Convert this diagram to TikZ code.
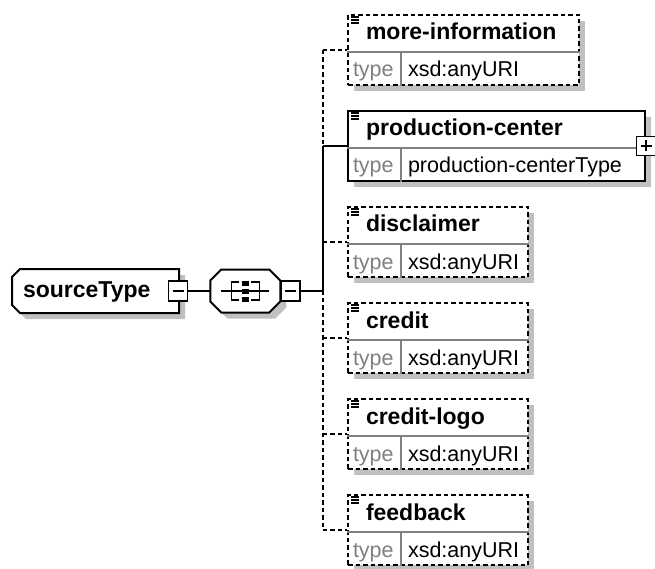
\documentclass[tikz,border=0pt]{standalone}
\usepackage{fontspec}
\setmainfont{Liberation Sans}
\usetikzlibrary{positioning,shadows}

\definecolor{shadegray}{RGB}{192,192,192}
\definecolor{linegray}{RGB}{128,128,128}

\begin{document}
\begin{tikzpicture}[x=1pt, y=-1pt, line width=2pt,
  every node/.style={inner sep=0pt},
  dashline/.style={dash pattern=on 4.5pt off 3pt},
  boxshadow/.style={drop shadow={shadow xshift=6pt, shadow yshift=-6pt, fill=shadegray, opacity=1}},
  elem/.style={draw, fill=white, rectangle, minimum height=70pt, boxshadow},
  namefont/.style={font=\fontsize{23}{26}\selectfont\bfseries},
  typefont/.style={font=\fontsize{21.5}{24}\selectfont},
  ctype/.style={rectangle, minimum width=165pt, minimum height=42pt},
  seqbox/.style={rectangle, minimum width=68pt, minimum height=41pt},
  outline/.style={draw, fill=white, boxshadow},
  minusbox/.style={draw, fill=white, minimum width=19pt, minimum height=20pt, line width=1.5pt,
    path picture={\draw[line width=1.5pt] ([xshift=4pt]path picture bounding box.west)
      -- ([xshift=-4pt]path picture bounding box.east);}},
  plusbox/.style={draw, fill=white, minimum size=19pt, line width=1.5pt,
    path picture={\draw[line width=1.5pt] ([xshift=4pt]path picture bounding box.west)
      -- ([xshift=-4pt]path picture bounding box.east);
      \draw[line width=1.5pt] ([yshift=-4pt]path picture bounding box.north)
      -- ([yshift=4pt]path picture bounding box.south);}}]
  \useasboundingbox (0,0) rectangle (655,569);

  %% complex type and its sequence compositor
  \node[ctype, anchor=west] (sourcetype) at (12,291) {};
  \draw[outline] ([xshift=8pt]sourcetype.north west) -- (sourcetype.north east)
    -- (sourcetype.south east) -- ([xshift=8pt]sourcetype.south west)
    -- ([yshift=8pt]sourcetype.south west) -- ([yshift=-8pt]sourcetype.north west) -- cycle;
  \node[namefont, anchor=base west] (sourcetype-name) at ([xshift=10pt,yshift=-6pt]sourcetype.west) {sourceType};
  \node[minusbox] (stminus) at ([xshift=-1pt]sourcetype.east) {};
  \node[seqbox, right=22pt of stminus] (seq) {};
  \draw[outline] ([xshift=11pt]seq.north west) -- ([xshift=-11pt]seq.north east)
    -- ([yshift=-11pt]seq.north east) -- ([yshift=11pt]seq.south east)
    -- ([xshift=-11pt]seq.south east) -- ([xshift=11pt]seq.south west)
    -- ([yshift=11pt]seq.south west) -- ([yshift=-11pt]seq.north west) -- cycle;
  \node[minusbox, right=0pt of seq] (seqminus) {};
  \coordinate[right=22pt of seqminus] (spine);
  \draw (stminus.east) -- (seq.west);
  \draw (seqminus.east) -- (spine);

  %% sequence symbol
  \begin{scope}[shift={(seq.center)}, line width=1.5pt]
    \draw (-24,0) -- (24,0);
    \draw (-6,-9) -- (-14,-9) -- (-14,9) -- (-6,9);
    \draw (6,-9) -- (14,-9) -- (14,9) -- (6,9);
    \foreach \dy in {-8,0,8}
      \fill (-3.5,\dy-2.5) rectangle (3.5,\dy+2.5);
  \end{scope}

  %% child elements
  \foreach \nm/\lab/\typ/\bw/\ln [count=\i from 0] in {
      moreinfo/more-information/xsd:anyURI/231/dashline,
      prodcenter/production-center/production-centerType/297/solid,
      disclaimer/disclaimer/xsd:anyURI/180/dashline,
      credit/credit/xsd:anyURI/180/dashline,
      creditlogo/credit-logo/xsd:anyURI/180/dashline,
      feedback/feedback/xsd:anyURI/180/dashline} {
    \node[elem, \ln, minimum width=\bw pt, anchor=north west] (\nm) at (347,14+96*\i) {};
    \draw[linegray, line width=1.3pt] ([yshift=-38pt]\nm.north west) -- ([yshift=-38pt]\nm.north east);
    \draw[linegray, line width=1.3pt] ([xshift=54pt,yshift=-38pt]\nm.north west) -- ([xshift=54pt]\nm.south west);
    \foreach \k in {3,6,9}
      \draw[line width=1.3pt] ([xshift=4pt,yshift=-\k pt]\nm.north west) -- ++(8,0);
    \node[namefont, anchor=base west] (\nm-name) at ([xshift=18pt,yshift=-26pt]\nm.north west) {\lab};
    \node[typefont, text=linegray, anchor=base west] (\nm-key) at ([xshift=5pt,yshift=-63pt]\nm.north west) {type};
    \node[typefont, anchor=base west] (\nm-type) at ([xshift=60pt,yshift=-63pt]\nm.north west) {\typ};
    \draw[\ln] (spine |- \nm.west) -- (\nm.west);
  }
  \node[plusbox] (prodplus) at (prodcenter.east) {};

  %% spine of the sequence
  \draw[dashline] (spine |- moreinfo.west) -- (spine |- feedback.west);
  \draw (spine |- prodcenter.west) -- (spine);
\end{tikzpicture}
\end{document}
